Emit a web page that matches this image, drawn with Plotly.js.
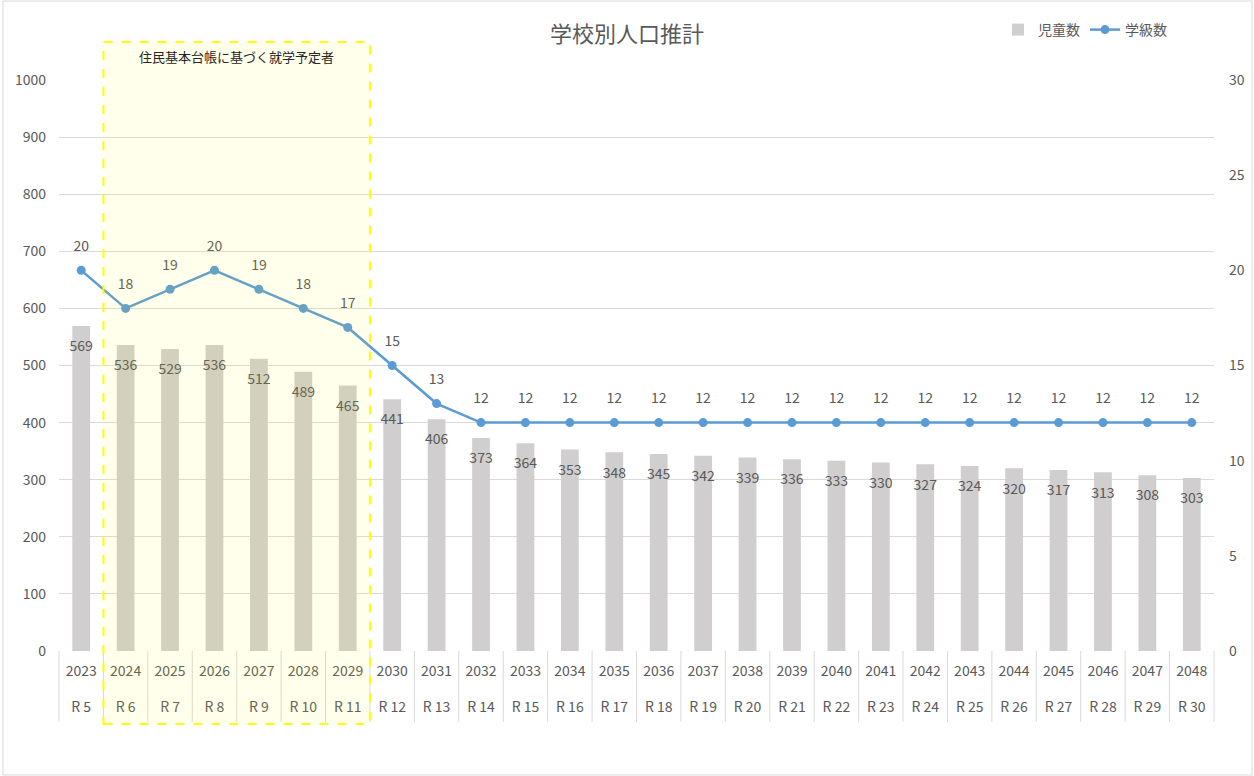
<!DOCTYPE html>
<html>
<head>
<meta charset="utf-8">
<script src="https://cdn.plot.ly/plotly-3.0.1.min.js"></script>
<style>html,body{margin:0;padding:0;background:#fff;}#chart{width:1254px;height:776px;}</style>
</head>
<body>
<div id="chart"></div>
<script>
const years = ['2023','2024','2025','2026','2027','2028','2029','2030','2031','2032','2033','2034','2035','2036','2037','2038','2039','2040','2041','2042','2043','2044','2045','2046','2047','2048'];
const reiwa = ['R 5','R 6','R 7','R 8','R 9','R 10','R 11','R 12','R 13','R 14','R 15','R 16','R 17','R 18','R 19','R 20','R 21','R 22','R 23','R 24','R 25','R 26','R 27','R 28','R 29','R 30'];
const pupils = [569,536,529,536,512,489,465,441,406,373,364,353,348,345,342,339,336,333,330,327,324,320,317,313,308,303];
const classes = [20,18,19,20,19,18,17,15,13,12,12,12,12,12,12,12,12,12,12,12,12,12,12,12,12,12];
const seriesNames = ['児童数','学級数'];
const chartTitle = '学校別人口推計';
const noteText = '住民基本台帳に基づく就学予定者';

const FONT = 'Noto Sans CJK JP, sans-serif';
const GREY = '#595959';
const n = years.length;
const tickText = years.map((y, i) => y + '<br> <br>' + reiwa[i]);

const traces = [
  {
    type: 'bar', name: seriesNames[0], x: years, y: pupils,
    marker: {color: '#d0cece'}, width: 0.4
  },
  {
    type: 'scatter', mode: 'markers+text', x: years, y: pupils, showlegend: false,
    marker: {size: 22, color: 'rgba(0,0,0,0)'}, hoverinfo: 'skip',
    text: pupils.map(String), textposition: 'bottom center',
    textfont: {family: FONT, size: 14, color: GREY}
  },
  {
    type: 'scatter', mode: 'lines+markers', name: seriesNames[1], x: years, y: classes, yaxis: 'y2',
    line: {color: '#5b9bd5', width: 2.5}, marker: {color: '#5b9bd5', size: 9}, cliponaxis: false
  },
  {
    type: 'scatter', mode: 'markers+text', x: years, y: classes, yaxis: 'y2', showlegend: false,
    marker: {size: 24, color: 'rgba(0,0,0,0)'}, hoverinfo: 'skip',
    text: classes.map(String), textposition: 'top center', cliponaxis: false,
    textfont: {family: FONT, size: 14, color: GREY}
  }
];

const plotTop = 80, plotBot = 651, plotH = plotBot - plotTop;
const py = v => (plotBot - v) / plotH;

const shapes = [];
for (let k = 0; k <= n; k++) {
  shapes.push({type: 'line', xref: 'paper', yref: 'paper', x0: k / n, x1: k / n, y0: py(651), y1: py(722),
               line: {color: '#d9d9d9', width: 1}, layer: 'below'});
}
shapes.push(
  {type: 'rect', xref: 'paper', yref: 'paper', x0: 1/n, x1: 7/n, y0: py(724), y1: py(42),
   fillcolor: 'rgba(255,255,0,0.08)', line: {width: 0}, layer: 'above'},
  {type: 'rect', xref: 'paper', yref: 'paper', x0: 1/n, x1: 7/n, y0: py(724), y1: py(42),
   fillcolor: 'rgba(0,0,0,0)', line: {color: '#ffff00', width: 2, dash: 'dash'}, layer: 'above'},
  {type: 'rect', xref: 'paper', yref: 'paper', x0: -56/1155, x1: (1252-59)/1155, y0: py(775), y1: py(1),
   fillcolor: 'rgba(0,0,0,0)', line: {color: '#d9d9d9', width: 1}, layer: 'below'}
);

const layout = {
  width: 1254, height: 776,
  margin: {l: 59, r: 40, t: plotTop, b: 776 - plotBot},
  paper_bgcolor: '#fff', plot_bgcolor: '#fff',
  font: {family: FONT, size: 14, color: GREY},
  title: {text: chartTitle, x: 0.5, xanchor: 'center', y: 1 - 34/776, yanchor: 'middle',
          font: {family: FONT, size: 22, color: GREY}},
  showlegend: true,
  legend: {orientation: 'h', x: (1172-59)/1155, xanchor: 'right', y: py(30), yanchor: 'middle',
           font: {family: FONT, size: 14, color: GREY}, bgcolor: 'rgba(0,0,0,0)'},
  xaxis: {
    type: 'category', range: [-0.5, n - 0.5], showgrid: false, ticks: '', showline: false,
    tickmode: 'array', tickvals: years, ticktext: tickText, tickangle: 0, ticklabelstandoff: 10,
    tickfont: {family: FONT, size: 14, color: GREY}, fixedrange: true
  },
  yaxis: {
    range: [0, 1000], dtick: 100, showgrid: true, gridcolor: '#d9d9d9', gridwidth: 1,
    zeroline: false, showline: false, ticks: '', ticklabelstandoff: 12,
    tickfont: {family: FONT, size: 14, color: GREY}, fixedrange: true
  },
  yaxis2: {
    range: [0, 30], dtick: 5, overlaying: 'y', side: 'right', showgrid: false,
    zeroline: false, showline: false, ticks: '', ticklabelstandoff: 14,
    tickfont: {family: FONT, size: 14, color: GREY}
  },
  shapes: shapes,
  annotations: [
    {xref: 'paper', yref: 'paper', x: 4/n, y: py(57), text: noteText, showarrow: false,
     xanchor: 'center', yanchor: 'middle', font: {family: FONT, size: 13, color: '#262626'}}
  ]
};

Plotly.newPlot('chart', traces, layout, {displayModeBar: false, staticPlot: true});
</script>
</body>
</html>
